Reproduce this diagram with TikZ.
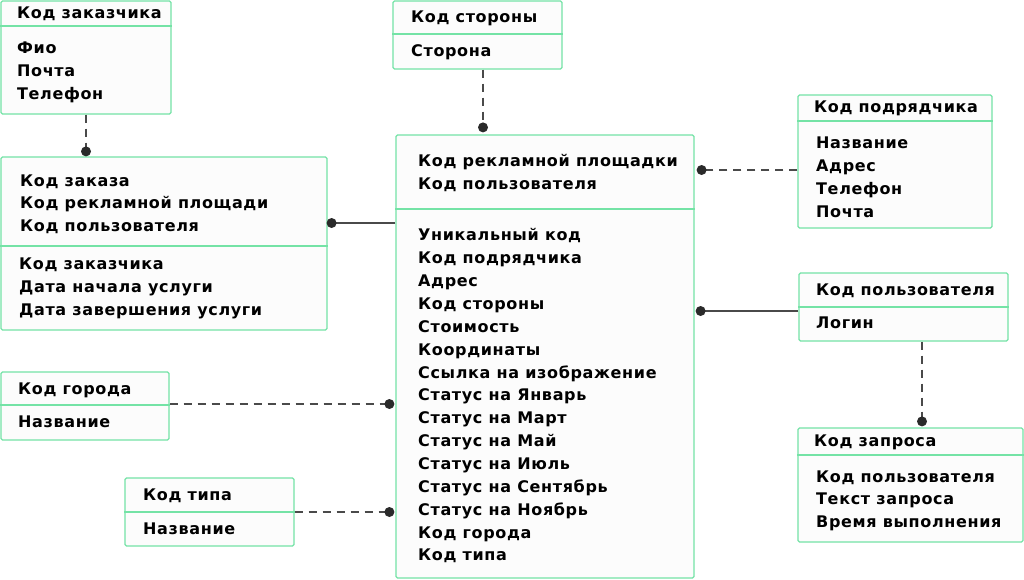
\documentclass[tikz,border=0pt]{standalone}
\usepackage{fontspec}
\setmainfont{DejaVu Sans}[LetterSpace=4]
\usetikzlibrary{calc}
\definecolor{boxgreen}{HTML}{74E3A6}
\definecolor{boxfill}{HTML}{FCFCFC}
\definecolor{conncol}{HTML}{4A4A4A}
\definecolor{dotcol}{HTML}{2A2A2A}
\begin{document}
\begin{tikzpicture}[x=1pt,y=-1pt,
  box/.style={draw=boxgreen, fill=boxfill, line width=1.2pt, rounded corners=1.5pt, inner sep=0pt},
  divline/.style={draw=boxgreen, line width=1.2pt},
  txt/.style={anchor=west, inner sep=0pt, text height=11.7pt, text depth=0pt, font=\fontsize{16}{19}\selectfont\bfseries, text=black},
  dashconn/.style={draw=conncol, line width=1.2pt, dash pattern=on 8pt off 6pt},
  solidconn/.style={draw=conncol, line width=1.2pt},
  dotmark/.style={fill=dotcol}
]
\useasboundingbox (0,0) rectangle (1024,579);
\fill[white] (0,0) rectangle (1024,579);

% Boxes
\node[box, minimum width=170, minimum height=113] (zakazchik) at (86,57.5) {};
\node[box, minimum width=326, minimum height=173] (zakaz) at (164,243.5) {};
\node[box, minimum width=169, minimum height=68] (storona) at (477.5,35) {};
\node[box, minimum width=298, minimum height=443] (main) at (545,356.5) {};
\node[box, minimum width=194, minimum height=133] (podr) at (895,161.5) {};
\node[box, minimum width=209, minimum height=68] (polz) at (903.5,307) {};
\node[box, minimum width=225, minimum height=114] (zapros) at (910.5,485) {};
\node[box, minimum width=168, minimum height=68] (gorod) at (85,406) {};
\node[box, minimum width=169, minimum height=68] (tip) at (209.5,512) {};

% Dividers
\draw[divline] (zakazchik.west |- 0,26) -- (zakazchik.east |- 0,26);
\draw[divline] (zakaz.west |- 0,246) -- (zakaz.east |- 0,246);
\draw[divline] (storona.west |- 0,34) -- (storona.east |- 0,34);
\draw[divline] (main.west |- 0,209) -- (main.east |- 0,209);
\draw[divline] (podr.west |- 0,121) -- (podr.east |- 0,121);
\draw[divline] (polz.west |- 0,307) -- (polz.east |- 0,307);
\draw[divline] (zapros.west |- 0,455) -- (zapros.east |- 0,455);
\draw[divline] (gorod.west |- 0,405) -- (gorod.east |- 0,405);
\draw[divline] (tip.west |- 0,512) -- (tip.east |- 0,512);

% Texts: Код заказчика
\node[txt] (zk-h) at (17,13) {Код заказчика};
\node[txt] (zk-1) at (17,48) {Фио};
\node[txt] (zk-2) at (17,71) {Почта};
\node[txt] (zk-3) at (17,94) {Телефон};

% Код заказа
\node[txt] (zz-1) at (20,181) {Код заказа};
\node[txt] (zz-2) at (20,203) {Код рекламной площади};
\node[txt] (zz-3) at (20,226) {Код пользователя};
\node[txt] (zz-4) at (19,264) {Код заказчика};
\node[txt] (zz-5) at (19,287) {Дата начала услуги};
\node[txt] (zz-6) at (19,310) {Дата завершения услуги};

% Код стороны
\node[txt] (st-h) at (411,17) {Код стороны};
\node[txt] (st-1) at (411,51) {Сторона};

% Main
\node[txt] (mn-a) at (418,161) {Код рекламной площадки};
\node[txt] (mn-b) at (418,184) {Код пользователя};
\foreach \t [count=\i from 0] in {Уникальный код, Код подрядчика, Адрес, Код стороны, Стоимость, Координаты, Ссылка на изображение, Статус на Январь, Статус на Март, Статус на Май, Статус на Июль, Статус на Сентябрь, Статус на Ноябрь, Код города, Код типа}
  \node[txt] (mn-\i) at (418,{235+22.857*\i}) {\t};

% Код подрядчика
\node[txt] (pd-h) at (814,107) {Код подрядчика};
\node[txt] (pd-1) at (816,143) {Название};
\node[txt] (pd-2) at (816,166) {Адрес};
\node[txt] (pd-3) at (816,189) {Телефон};
\node[txt] (pd-4) at (816,212) {Почта};

% Код пользователя
\node[txt] (pl-h) at (816,290) {Код пользователя};
\node[txt] (pl-1) at (816,323) {Логин};

% Код запроса
\node[txt] (zp-h) at (814,441) {Код запроса};
\node[txt] (zp-1) at (816,477) {Код пользователя};
\node[txt] (zp-2) at (816,499) {Текст запроса};
\node[txt] (zp-3) at (816,522) {Время выполнения};

% Код города
\node[txt] (gr-h) at (18,389) {Код города};
\node[txt] (gr-1) at (18,422) {Название};

% Код типа
\node[txt] (tp-h) at (143,495) {Код типа};
\node[txt] (tp-1) at (143,529) {Название};

% Connector end points
\coordinate (c1) at (zakazchik.south);
\coordinate (d1) at ($(zakazchik.south |- zakaz.north)+(0,-5)$);
\coordinate (c2) at (main.west |- 0,223);
\coordinate (d2) at ($(zakaz.east |- 0,223)+(4,0)$);
\coordinate (c3) at ($(storona.south)+(5.5,0)$);
\coordinate (d3) at ($(c3 |- main.north)+(0,-7)$);
\coordinate (c4) at (podr.west |- 0,170);
\coordinate (d4) at ($(main.east |- 0,170)+(7,0)$);
\coordinate (c5) at (polz.west |- 0,311);
\coordinate (d5) at ($(main.east |- 0,311)+(6,0)$);
\coordinate (c6) at ($(polz.south)+(18.5,0)$);
\coordinate (d6) at ($(c6 |- zapros.north)+(0,-6)$);
\coordinate (c7) at (gorod.east |- 0,404);
\coordinate (d7) at ($(main.west |- 0,404)+(-6,0)$);
\coordinate (c8) at (tip.east |- 0,512);
\coordinate (d8) at ($(main.west |- 0,512)+(-6,0)$);

% Connectors
\draw[dashconn] (c1) -- (d1);
\draw[solidconn] (c2) -- (d2);
\draw[dashconn] (c3) -- (d3);
\draw[dashconn] (c4) -- (d4);
\draw[solidconn] (c5) -- (d5);
\draw[dashconn] (c6) -- (d6);
\draw[dashconn] (c7) -- (d7);
\draw[dashconn] (c8) -- (d8);

% Dots
\foreach \d in {d1,d2,d3,d4,d5,d6,d7,d8}
  \fill[dotmark] (\d) circle (5);
\end{tikzpicture}
\end{document}
